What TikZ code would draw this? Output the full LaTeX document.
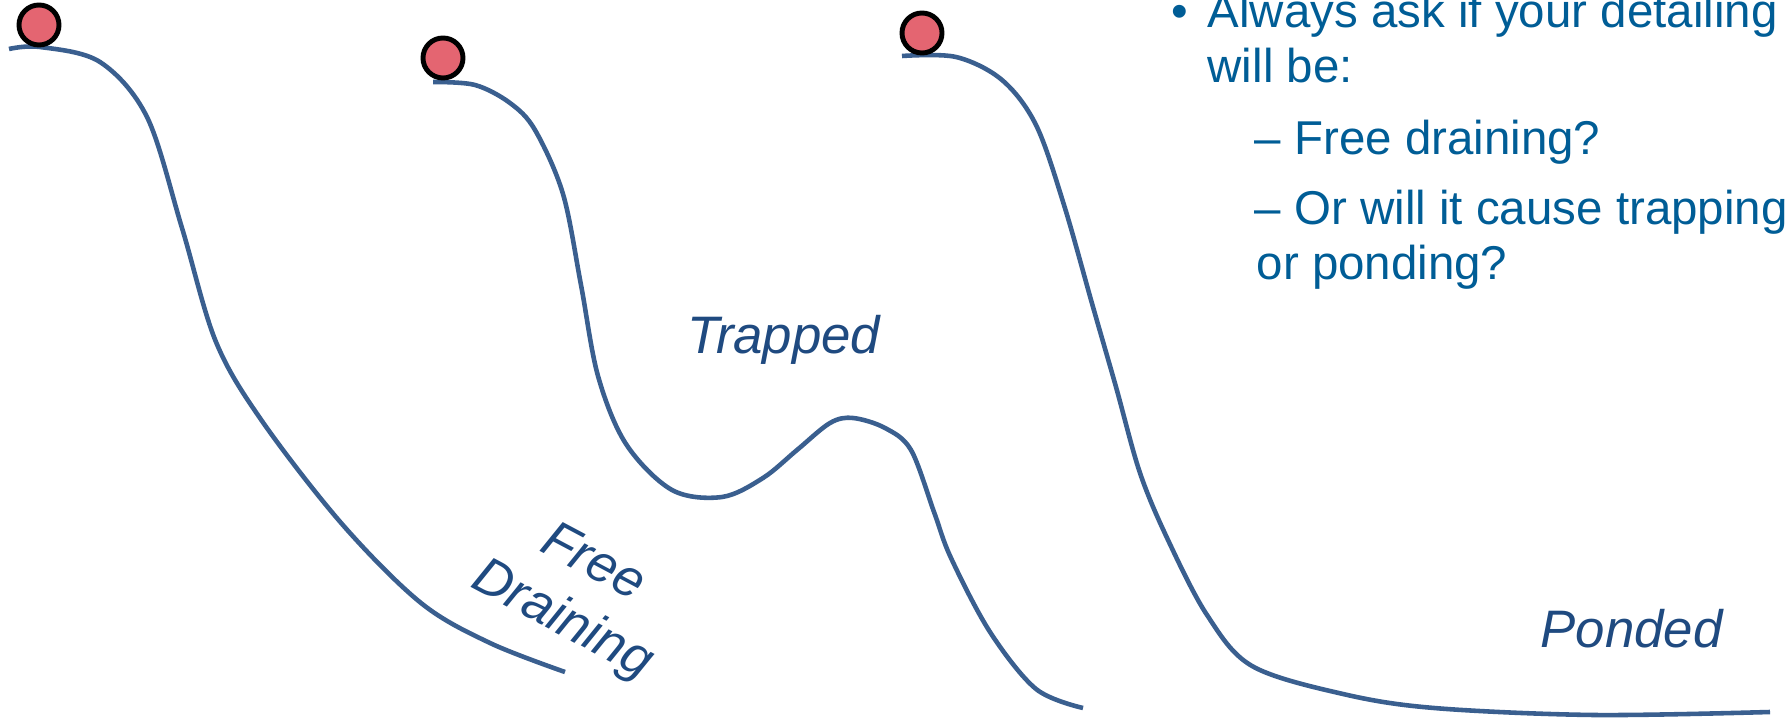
\documentclass[tikz,border=0pt]{standalone}
\usepackage{fontspec}
\setmainfont{Liberation Sans}
\usepackage{tikz}
\usetikzlibrary{positioning,calc}
\definecolor{dpSlope}{HTML}{3A5F8F}
\definecolor{dpBall}{HTML}{E46571}
\definecolor{dpNote}{HTML}{005D96}
\definecolor{dpLabel}{HTML}{1F4A80}
\tikzset{
    slopeLine/.style={draw=dpSlope, line width=1.3pt, line cap=butt},
    ballMark/.style={circle, draw=black, fill=dpBall, line width=1.4pt,
        minimum size=0.4cm, inner sep=0pt},
    noteText/.style={anchor=base west, inner sep=0pt, text=dpNote,
        font=\fontsize{13.5}{16}\selectfont},
    % Slope labels
    slopeLabel/.style={inner sep=0pt, text=dpLabel, align=center,
        font=\fontsize{15}{18.5}\selectfont\itshape}
}

\begin{document}
\begin{tikzpicture}[x=0.01cm, y=-0.01cm]
\clip (0,0) rectangle (1785,719);
\fill[white] (0,0) rectangle (1785,719);

% free draining slope
\draw[slopeLine] plot[smooth, tension=0.55] coordinates {
    (9,49) (40,47) (100,62) (147,117) (182,228) (216,342) (262,421)
    (342,524) (421,603) (490,643) (565,672)};
% trapped slope
\draw[slopeLine] plot[smooth, tension=0.55] coordinates {
    (433,82) (475,85) (510,103) (535,130) (563,194) (581,285) (598,376)
    (626,444) (672,490) (722,497) (763,478) (797,450) (830,423) (853,418)
    (885,428) (911,450) (934,512) (951,558) (990,632) (1036,689) (1083,708)};
% ponded slope
\draw[slopeLine] plot[smooth, tension=0.55] coordinates {
    (902,56) (956,57) (1002,80) (1036,125) (1064,205) (1093,307) (1116,387)
    (1140,473) (1168,540) (1207,615) (1252,666) (1343,694) (1434,708)
    (1594,715) (1770,712)};

\node[ballMark] (ballA) at (39,25) {};
\node[ballMark] (ballB) at (443,58) {};
\node[ballMark] (ballC) at (922,33) {};

\node[slopeLabel, rotate=-28] (freeLbl) at (577,593) {Free\\Draining};
\node[slopeLabel, anchor=base west] (trapLbl) at (687,354) {Trapped};
\node[slopeLabel, anchor=base west] (pondLbl) at (1540,648) {Ponded};

\node[noteText] (bullet) at (1171,28) {•};
\node[noteText] (askA) at (1207,28) {Always ask if your detailing};
\node[noteText] (askB) at (1207,83) {will be:};
\node[noteText] (optA) at (1254,155) {– Free draining?};
\node[noteText] (optB) at (1254,225) {– Or will it cause trapping};
\node[noteText] (optC) at (1256,280) {or ponding?};
\end{tikzpicture}
\end{document}
